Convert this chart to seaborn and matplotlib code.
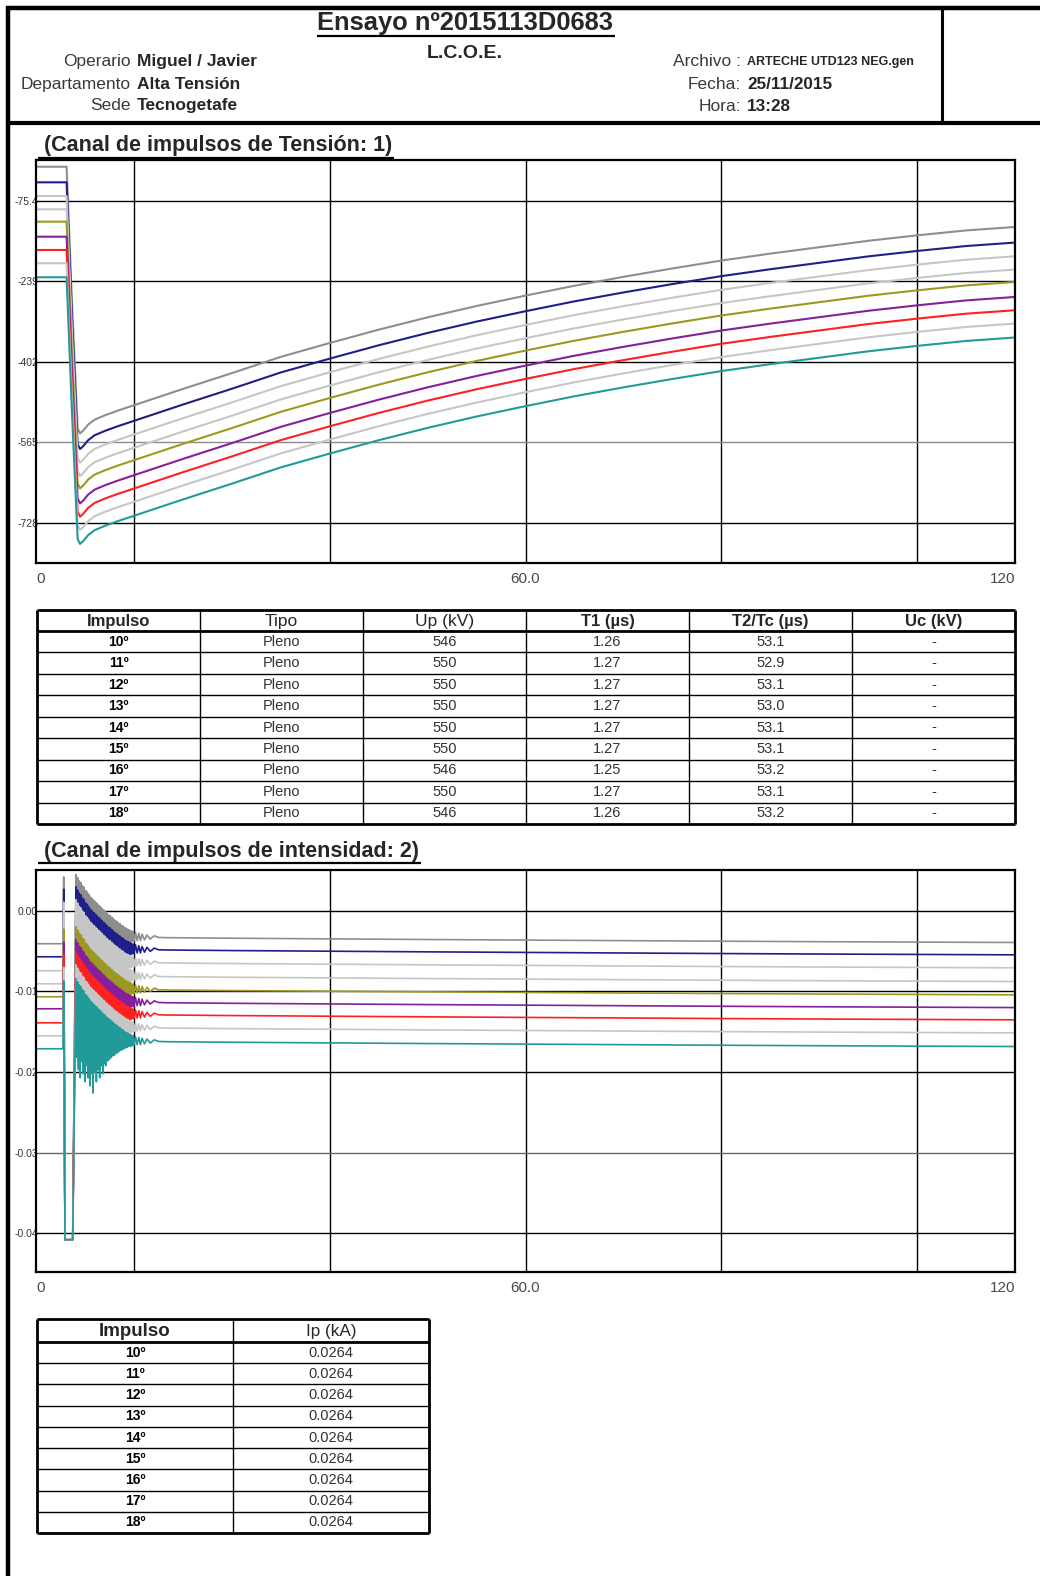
import numpy as np
import pandas as pd
import matplotlib
matplotlib.use('Agg')
import matplotlib.pyplot as plt
import seaborn as sns

W, H = 1040, 1576

# ---------------- data ----------------
impulsos = ['10º', '11º', '12º', '13º', '14º', '15º', '16º', '17º', '18º']
colores = ['#8e8e8e', '#1f1f8a', '#c6c6c6', '#c6c6c6', '#9a9a22',
           '#86209a', '#ff2020', '#c6c6c6', '#239a9a']

tipo = ['Pleno'] * 9
up_kv = ['546', '550', '550', '550', '550', '550', '546', '550', '546']
t1_us = ['1.26', '1.27', '1.27', '1.27', '1.27', '1.27', '1.25', '1.27', '1.26']
t2_us = ['53.1', '52.9', '53.1', '53.0', '53.1', '53.1', '53.2', '53.1', '53.2']
uc_kv = ['-'] * 9
ip_ka = ['0.0264'] * 9

# voltage channel: common waveform shape (kV, relative to each trace's base) + trace offsets
u_t = [0, 3.75, 4.4, 5.1, 5.4, 5.8, 6.4, 7.2, 8.5, 10, 12, 18, 24, 30, 36, 42, 48,
       54, 60, 66, 72, 78, 84, 90, 96, 102, 108, 114, 120]
u_shape = [0, 0, -270, -530, -540, -534, -522, -512, -503, -494, -483, -450, -418,
           -385, -357, -330, -305, -282, -261, -241, -223, -206, -190, -176, -163,
           -150, -139, -129, -122]
u_base = [-6.6, -38.2, -65.9, -92.8, -117.9, -148.3, -175.2, -202.1, -230.4]
u_ticks = [-728, -565, -402, -239, -75.4]
u_ticklabels = ['-728', '-565', '-402', '-239', '-75.4']

# current channel
i_pre = [-0.00409, -0.00571, -0.00744, -0.00906, -0.01067, -0.01216, -0.01390,
         -0.01551, -0.01712]
i_set = [-0.00331, -0.00484, -0.00645, -0.00815, -0.00980, -0.01138, -0.01290,
         -0.01452, -0.01621]
i_pre_t = [0, 3.3]
ring_t = [3.40, 3.55, 4.50,
          4.9, 5.0, 5.1, 5.2, 5.3, 5.4, 5.5, 5.6, 5.7, 5.8, 5.9, 6.0, 6.1, 6.2,
          6.3, 6.4, 6.5, 6.6, 6.7, 6.8, 6.9, 7.0, 7.1, 7.2, 7.3, 7.4, 7.5, 7.6,
          7.7, 7.8, 7.9, 8.0, 8.1, 8.2, 8.3, 8.4, 8.5, 8.6, 8.7, 8.8, 8.9, 9.0,
          9.1, 9.2, 9.3, 9.4, 9.5, 9.6, 9.7, 9.8, 9.9, 10.0, 10.1, 10.2, 10.3,
          10.4, 10.5, 10.6, 10.7, 10.8, 10.9, 11.0, 11.1, 11.2, 11.3, 11.4, 11.5,
          11.6, 11.7, 11.8, 11.9, 12.0, 12.2, 12.4, 12.6, 12.8, 13.0, 13.3, 13.6,
          14.0, 14.5, 15.0]
ring_dev = [0.0075, -0.040, -0.040,
            0.0078, -0.0020, 0.0074, -0.0035, 0.0070, -0.0045, 0.0068, -0.0025,
            0.0064, -0.0040, 0.0062, -0.0050, 0.0058, -0.0030, 0.0056, -0.0045,
            0.0053, -0.0055, 0.0050, -0.0040, 0.0048, -0.0064, 0.0046, -0.0038,
            0.0044, -0.0050, 0.0042, -0.0035, 0.0040, -0.0045, 0.0038, -0.0030,
            0.0036, -0.0040, 0.0034, -0.0028, 0.0032, -0.0030, 0.0030, -0.0024,
            0.0028, -0.0022, 0.0027, -0.0020, 0.0025, -0.0018, 0.0023, -0.0017,
            0.0021, -0.0015, 0.0020, -0.0014, 0.0018, -0.0012, 0.0017, -0.0011,
            0.0015, -0.0010, 0.0014, -0.0009, 0.0012, -0.0008, 0.0011, -0.0007,
            0.0010, -0.0006, 0.0009, -0.0006, 0.0008, -0.0005, 0.0007, -0.0005,
            0.0006, -0.0004, 0.0005, -0.0004, 0.0004, -0.0003, 0.0003, -0.0002,
            0.0002, 0.0]
drift_t = [16, 24, 36, 48, 60, 72, 84, 96, 108, 120]
drift = [-0.00003, -0.00010, -0.00018, -0.00026, -0.00033, -0.00040, -0.00047,
         -0.00053, -0.00058, -0.00063]
i_clip = -0.0408
i_ticks = [-0.04, -0.03, -0.02, -0.01, 0.0]
i_ticklabels = ['-0.04', '-0.03', '-0.02', '-0.01', '0.00']

grid_t = [12, 36, 60, 84, 108]
x_labels = [(0, '0', 'left'), (60, '60.0', 'center'), (120, '120', 'right')]

# ---------------- style ----------------
sns.set_style('white')
plt.rcParams['font.family'] = ['Liberation Sans', 'DejaVu Sans']

fig = plt.figure(figsize=(W / 100, H / 100), dpi=100)
pg = fig.add_axes([0, 0, 1, 1])
pg.set_xlim(0, W)
pg.set_ylim(H, 0)
pg.axis('off')


def rect(x0, y0, x1, y1):
    return [x0 / W, 1 - y1 / H, (x1 - x0) / W, (y1 - y0) / H]


def hl(y, x0, x1, lw=1.0, c='black'):
    pg.plot([x0, x1], [y, y], color=c, lw=lw, solid_capstyle='butt')


def vl(x, y0, y1, lw=1.0, c='black'):
    pg.plot([x, x], [y0, y1], color=c, lw=lw, solid_capstyle='butt')


# page frame / header box
vl(8, 6, H, lw=3.2)
hl(8, 6, W, lw=3.2)
hl(122.5, 6, W, lw=3.0)
vl(942, 8, 122, lw=2.2)

reg = '#3a3a3a'
t_ens = pg.text(465, 23, 'Ensayo nº2015113D0683', ha='center', va='center',
                fontsize=18.4, fontweight='bold')
pg.text(465, 53, 'L.C.O.E.', ha='center', va='center', fontsize=14, fontweight='bold')
for y, lab, val in [(61.5, 'Operario', 'Miguel / Javier'),
                    (84.5, 'Departamento', 'Alta Tensión'),
                    (105.5, 'Sede', 'Tecnogetafe')]:
    pg.text(131, y, lab, ha='right', va='center', fontsize=12.5, color=reg)
    pg.text(137, y, val, ha='left', va='center', fontsize=12.5, fontweight='bold')
pg.text(741, 61.5, 'Archivo :', ha='right', va='center', fontsize=12.5, color=reg)
pg.text(747, 61.5, 'ARTECHE UTD123 NEG.gen', ha='left', va='center', fontsize=9,
        fontweight='bold')
pg.text(741, 84.5, 'Fecha:', ha='right', va='center', fontsize=12.5, color=reg)
pg.text(747, 84.5, '25/11/2015', ha='left', va='center', fontsize=12.3, fontweight='bold')
pg.text(741, 106, 'Hora:', ha='right', va='center', fontsize=12.5, color=reg)
pg.text(747, 106, '13:28', ha='left', va='center', fontsize=12.3, fontweight='bold')

t_c1 = pg.text(44, 145.5, '(Canal de impulsos de Tensión: 1)', ha='left', va='center',
               fontsize=15.5, fontweight='bold')
t_c2 = pg.text(44, 851.5, '(Canal de impulsos de intensidad: 2)', ha='left',
               va='center', fontsize=15.5, fontweight='bold')


def style_axes(ax, yticks, ylabels, gray_idx, gray_col):
    ax.set_xlim(0, 120)
    ax.set_xticks(grid_t)
    ax.set_yticks(yticks)
    ax.set_yticklabels(ylabels)
    ax.tick_params(axis='x', length=0, labelbottom=False)
    ax.tick_params(axis='y', length=0, pad=-1.5, labelsize=7.5, labelcolor='#333333')
    ax.grid(True, color='black', lw=1.0)
    ax.yaxis.get_gridlines()[gray_idx].set_color(gray_col)
    ax.set_axisbelow(True)
    for s in ax.spines.values():
        s.set_visible(True)
        s.set_color('black')
        s.set_linewidth(1.6)
    ax.set_xlabel('')
    ax.set_ylabel('')
    for x, txt, ha in x_labels:
        ax.text(x, -16.0 / 403.0, txt, transform=ax.get_xaxis_transform(), ha=ha,
                va='center', fontsize=11, color='#4a4a4a')


palette = dict(zip(impulsos, colores))

# ---------------- voltage channel ----------------
rows = []
for imp, base in zip(impulsos, u_base):
    for t, s in zip(u_t, u_shape):
        rows.append((imp, t, base + s))
df_u = pd.DataFrame(rows, columns=['impulso', 't', 'u'])

ax1 = fig.add_axes(rect(36, 160, 1015, 563))
sns.lineplot(data=df_u, x='t', y='u', hue='impulso', palette=palette,
             estimator=None, sort=False, legend=False, lw=1.5, ax=ax1)
ax1.set_ylim(-809, 7)
style_axes(ax1, u_ticks, u_ticklabels, 1, '#8a8a8a')

# ---------------- current channel ----------------
rows = []
for imp, pre, lev in zip(impulsos, i_pre, i_set):
    for t in i_pre_t:
        rows.append((imp, t, pre))
    for t, d in zip(ring_t, ring_dev):
        rows.append((imp, t, max(lev + d, i_clip)))
    for t, d in zip(drift_t, drift):
        rows.append((imp, t, lev + d))
df_i = pd.DataFrame(rows, columns=['impulso', 't', 'i'])

ax2 = fig.add_axes(rect(36, 870, 1015, 1272))
sns.lineplot(data=df_i, x='t', y='i', hue='impulso', palette=palette,
             estimator=None, sort=False, legend=False, lw=1.2, ax=ax2)
ax2.set_ylim(-0.0448, 0.00505)
style_axes(ax2, i_ticks, i_ticklabels, 1, '#666666')

# ---------------- tables ----------------
def draw_table(xs, y_top, y_head, y_bot, header, hweights, hsizes, columns, cweights,
               csizes, ccolors):
    n = len(columns[0])
    rh = (y_bot - y_head) / n
    x0, x1 = xs[0], xs[-1]
    for i in range(1, n):
        hl(y_head + i * rh, x0, x1, lw=1.0)
    for x in xs[1:-1]:
        vl(x, y_top, y_bot, lw=1.0)
    hl(y_top, x0, x1, lw=2.0)
    hl(y_head, x0, x1, lw=2.0)
    hl(y_bot, x0, x1, lw=2.0)
    vl(x0, y_top, y_bot, lw=2.0)
    vl(x1, y_top, y_bot, lw=2.0)
    for j, txt in enumerate(header):
        cx = (xs[j] + xs[j + 1]) / 2
        pg.text(cx, (y_top + y_head) / 2 + 1, txt, ha='center', va='center',
                fontsize=hsizes[j], fontweight=hweights[j])
    for j, col in enumerate(columns):
        cx = (xs[j] + xs[j + 1]) / 2
        for i, txt in enumerate(col):
            pg.text(cx, y_head + (i + 0.5) * rh, txt, ha='center', va='center',
                    fontsize=csizes[j], fontweight=cweights[j], color=ccolors[j])


draw_table([37, 200, 363, 526, 689, 852, 1015], 610, 631, 824,
           ['Impulso', 'Tipo', 'Up (kV)', 'T1 (µs)', 'T2/Tc (µs)', 'Uc (kV)'],
           ['bold', 'normal', 'normal', 'bold', 'bold', 'bold'],
           [12, 12.5, 12.5, 12, 12, 12],
           [impulsos, tipo, up_kv, t1_us, t2_us, uc_kv],
           ['bold', 'normal', 'normal', 'normal', 'normal', 'normal'],
           [10, 10.5, 10.5, 10.5, 10.5, 10.5],
           ['black', '#333333', '#333333', '#333333', '#333333', '#333333'])

draw_table([37, 233, 429], 1319, 1342, 1533,
           ['Impulso', 'Ip (kA)'], ['bold', 'normal'], [13.5, 12.3],
           [impulsos, ip_ka], ['bold', 'normal'], [10, 10.5], ['black', '#333333'])

# underlines under the titles
fig.canvas.draw()
r = fig.canvas.get_renderer()
for t, yu in [(t_ens, 35.5), (t_c1, 157.5), (t_c2, 862.5)]:
    bb = t.get_window_extent(r)
    hl(yu, bb.x0 - 6 if t is not t_ens else bb.x0, bb.x1 + 2, lw=1.6)

fig.savefig('out.png', dpi=100)
